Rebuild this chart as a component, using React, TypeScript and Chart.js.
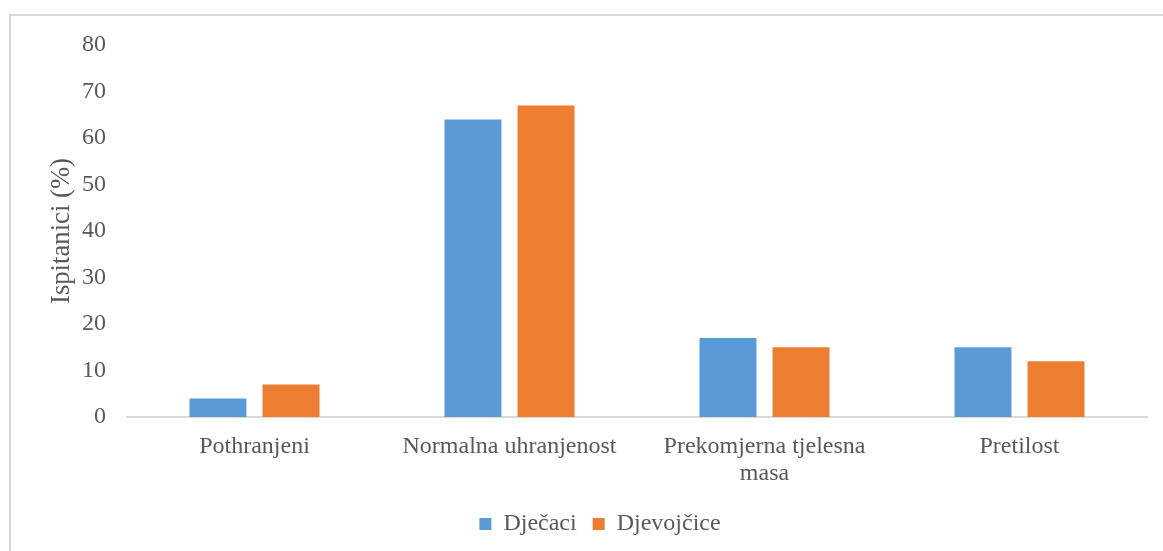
import React, { useEffect, useRef } from "react";
import { Chart, registerables } from "chart.js";

Chart.register(...registerables);

const categories: (string | string[])[] = [
  "Pothranjeni",
  "Normalna uhranjenost",
  ["Prekomjerna tjelesna", "masa"],
  "Pretilost",
];
const seriesNames = ["Dječaci", "Djevojčice"];
const boysValues = [4, 64, 17, 15];
const girlsValues = [7, 67, 15, 12];
const yMin = 0;
const yMax = 80;
const yStep = 10;
const yTitle = "Ispitanici (%)";

const FONT = "'Liberation Serif', 'Times New Roman', serif";
const TEXT = "#595959";

export default function App() {
  const ref = useRef<HTMLCanvasElement | null>(null);

  useEffect(() => {
    if (!ref.current) return;
    const chart = new Chart(ref.current, {
      type: "bar",
      data: {
        labels: categories as any,
        datasets: [
          {
            label: seriesNames[0],
            data: boysValues,
            backgroundColor: "#5B9BD5",
            borderWidth: 0,
            categoryPercentage: 0.573,
            barPercentage: 0.78,
          },
          {
            label: seriesNames[1],
            data: girlsValues,
            backgroundColor: "#ED7D31",
            borderWidth: 0,
            categoryPercentage: 0.573,
            barPercentage: 0.78,
          },
        ],
      },
      options: {
        responsive: false,
        animation: false,
        layout: { padding: { top: 45, left: 53, right: 16, bottom: 5 } },
        plugins: {
          tooltip: { enabled: false },
          legend: {
            position: "bottom",
            labels: {
              boxWidth: 12,
              boxHeight: 12,
              padding: 16,
              color: TEXT,
              font: { family: FONT, size: 24 },
            },
          },
        },
        scales: {
          x: {
            grid: { display: false, drawTicks: false },
            border: { display: true, color: "#D9D9D9", width: 2 },
            ticks: {
              color: TEXT,
              padding: 16,
              maxRotation: 0,
              autoSkip: false,
              font: { family: FONT, size: 24, lineHeight: 1.13 },
            },
            afterFit: (s: any) => {
              s.height = 79;
            },
          },
          y: {
            min: yMin,
            max: yMax,
            grid: { display: false, drawTicks: false },
            border: { display: false },
            ticks: {
              stepSize: yStep,
              color: TEXT,
              padding: 21,
              font: { family: FONT, size: 24 },
            },
            title: {
              display: true,
              text: yTitle,
              color: TEXT,
              padding: { top: -7, bottom: 0 },
              font: { family: FONT, size: 26.7, lineHeight: 1.2 },
            },
            afterFit: (s: any) => {
              s.width = 74;
            },
          },
        },
      },
    });
    return () => chart.destroy();
  }, []);

  return (
    <div style={{ position: "absolute", left: 0, top: 0, width: 1163, height: 551, background: "#fff", overflow: "hidden" }}>
      <div
        style={{
          position: "absolute",
          left: 9,
          top: 14,
          width: 1200,
          height: 600,
          borderLeft: "2px solid #D9D9D9",
          borderTop: "2px solid #D9D9D9",
          pointerEvents: "none",
        }}
      />
      <canvas ref={ref} width={1163} height={551} style={{ position: "absolute", left: 0, top: 0 }} />
    </div>
  );
}
